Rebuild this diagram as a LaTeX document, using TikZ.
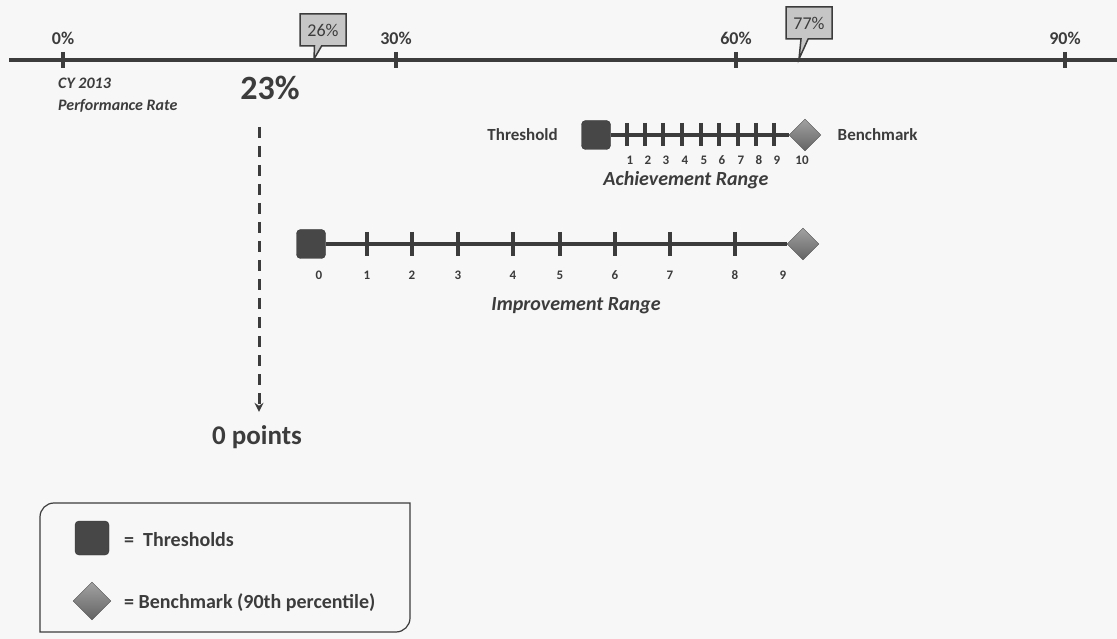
\documentclass[tikz,border=0pt]{standalone}
\usepackage{fontspec}
\setmainfont{Carlito}
\usetikzlibrary{arrows.meta,positioning,shapes.geometric,shapes.callouts}
\definecolor{inkGray}{HTML}{3C3C3C}
\definecolor{markDark}{HTML}{474747}
\definecolor{benchTop}{HTML}{A2A2A2}
\definecolor{benchBot}{HTML}{636363}
\definecolor{paper}{HTML}{F7F7F7}
\definecolor{calloutFill}{HTML}{C6C6C6}

\begin{document}
\begin{tikzpicture}[x=1pt, y=-1pt,
  every node/.style={text=inkGray},
  thr/.style={draw=markDark!70!black, fill=markDark, rounded corners=4pt,
              minimum size=29pt, inner sep=0pt},
  bench/.style={diamond, draw=benchBot!80!black, top color=benchTop,
                bottom color=benchBot, minimum width=32pt, minimum height=32pt,
                inner sep=0pt},
  pct/.style={rectangle callout, draw=inkGray, fill=calloutFill, line width=1.5pt,
              font=\fontsize{18}{20}\selectfont, minimum width=46pt,
              minimum height=32pt, inner sep=2pt},
  axlbl/.style={font=\fontsize{18}{20}\selectfont\bfseries},
  ital/.style={font=\fontsize{16}{18}\selectfont\bfseries\itshape, anchor=west, inner sep=0pt},
  side/.style={font=\fontsize{17}{19}\selectfont\bfseries},
  num/.style={font=\fontsize{13}{15}\selectfont\bfseries, inner sep=0pt},
  rng/.style={font=\fontsize{20}{22}\selectfont\bfseries\itshape},
  leg/.style={font=\fontsize{20}{22}\selectfont\bfseries, anchor=west, inner sep=0pt},
  axtick/.style={draw=inkGray, line width=3.5pt},
  scltick/.style={draw=inkGray, line width=4pt},
  scl/.style={draw=inkGray, line width=3.5pt},
  dasharr/.style={draw=inkGray, line width=3pt, dash pattern=on 11pt off 8pt,
                  -{Stealth[length=9pt,width=9pt]}}
]
\fill[paper] (0,0) rectangle (1117,639);
\useasboundingbox (0,0) rectangle (1117,639);

% percent axis
\coordinate (axL) at (9,60);
\coordinate (axR) at (1117,60);
\draw[axtick] (axL) -- (axR);
\foreach \x/\p in {63/0,396/30,736/60,1065/90}{
  \draw[axtick] (\x,52) -- (\x,68);
  \node[axlbl] (ax\p) at (\x,38) {\p\%};
}
\coordinate (p26) at (314,59);
\coordinate (p77) at (799,59);
\node[pct, callout absolute pointer={(p26)}] (c26) at (323,30) {26\%};
\node[pct, callout absolute pointer={(p77)}] (c77) at (809,23) {77\%};

% current rate
\node[ital] (cy)   at (58,83)  {CY 2013};
\node[ital] (perf) at (58,106) {Performance Rate};
\node[font=\fontsize{34}{36}\selectfont\bfseries] (rate) at (270,88) {23\%};
\node[font=\fontsize{27}{30}\selectfont\bfseries] (pts) at (257,437) {0 points};
\coordinate (dashTop) at (259,127);
\draw[dasharr] (dashTop) -- (dashTop |- pts.north) [shorten >=10pt];

% achievement range
\node[thr]   (thrA) at (596,135) {};
\node[bench] (benA) at (805,135) {};
\draw[scl] (thrA) -- (benA);
\foreach \x/\n in {627/1,645/2,663/3,682/4,701/5,719/6,738/7,756/8,774/9}{
  \draw[scltick] (\x,123) -- (\x,146);
  \node[num] (a\n) at (\x+3,160) {\n};
}
\node[num] (a10) at (802,160) {10};
\node[side, left=20pt of thrA]  (thrLbl) {Threshold};
\node[side, right=13pt of benA] (benLbl) {Benchmark};
\node[rng] (achLbl) at (686,180) {Achievement Range};

% improvement range
\node[thr]   (thrI) at (311,244) {};
\node[bench] (benI) at (803,244) {};
\draw[scl] (thrI) -- (benI);
\foreach \x/\n in {367/1,412/2,458/3,513/4,560/5,615/6,670/7,735/8}{
  \draw[scltick] (\x,232) -- (\x,256);
  \node[num] (i\n) at (\x,275) {\n};
}
\node[num] (i0) at (319,275) {0};
\node[num] (i9) at (783,275) {9};
\node[rng] (impLbl) at (576,306) {Improvement Range};

% legend
\draw[inkGray, line width=1.2pt] (40,632) {[rounded corners=14pt] -- (40,503) -- (200,503)}
  -- (410,503) -- (410,560) {[rounded corners=14pt] -- (410,632) -- (200,632)} -- cycle;
\node[thr, minimum size=34pt] (legThr) at (92,538) {};
\node[bench, minimum width=38pt, minimum height=38pt] (legBen) at (92,601) {};
\node[leg] (legThrTxt) at (124,540) {=\ \ Thresholds};
\node[leg] (legBenTxt) at (124,603) {= Benchmark (90th percentile)};
\end{tikzpicture}
\end{document}
